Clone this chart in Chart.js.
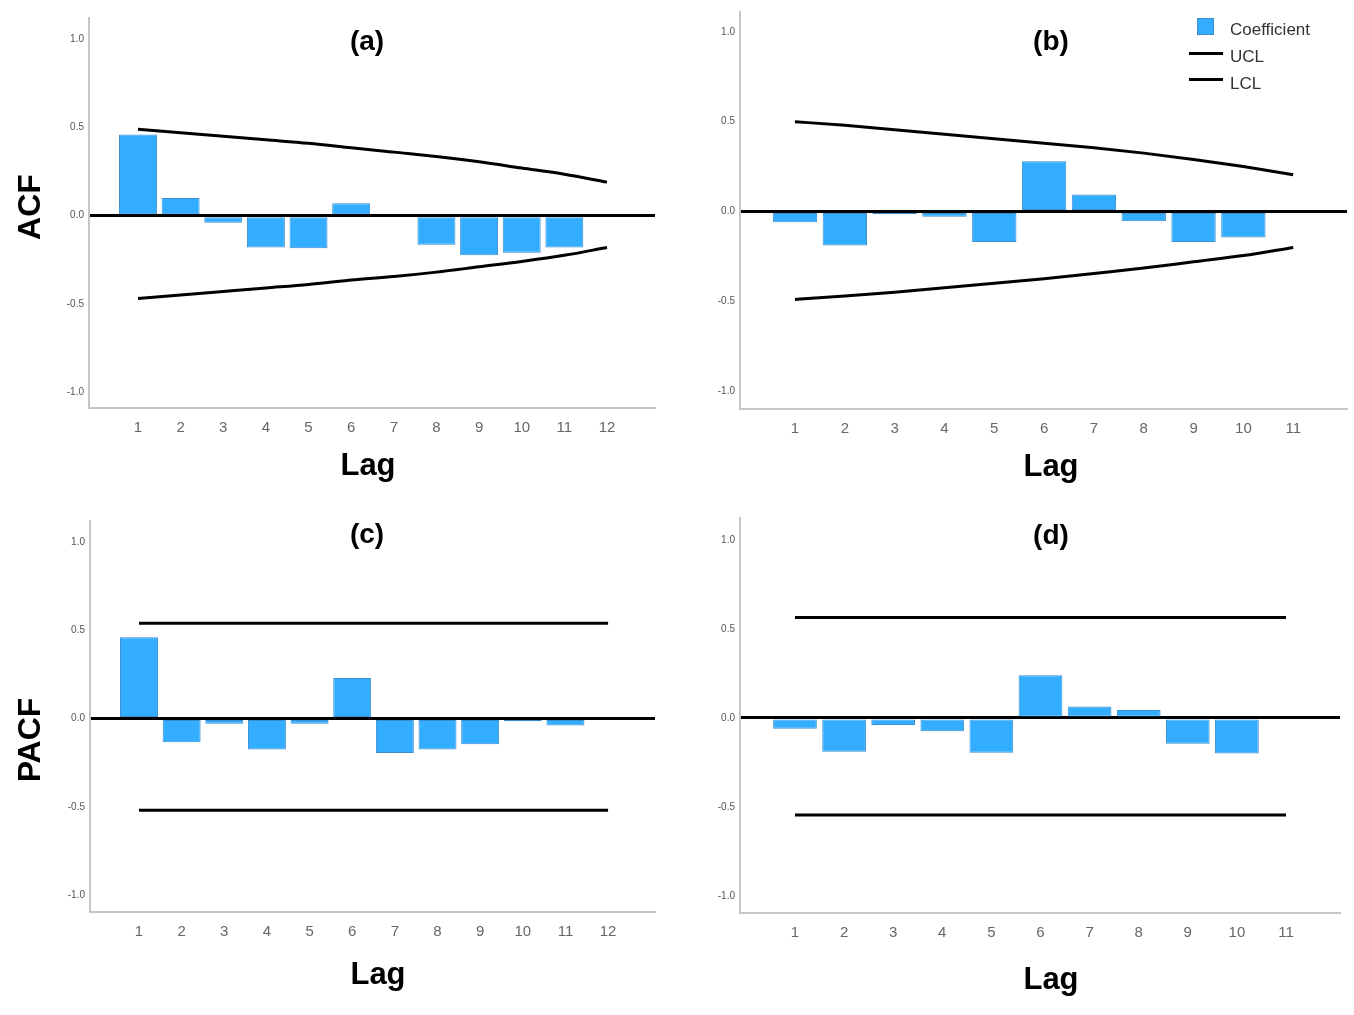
<!DOCTYPE html>
<html>
<head>
<meta charset="utf-8">
<script src="https://cdn.jsdelivr.net/npm/chart.js@4.4.1/dist/chart.umd.min.js"></script>
<style>
  html, body { margin: 0; padding: 0; background: #fff; }
  #page { position: relative; width: 1354px; height: 1015px; overflow: hidden; font-family: "Liberation Sans", Arial, sans-serif; }
  .panel { position: absolute; }
  .key { position: absolute; font-size: 17px; color: #333; line-height: 1; }
  .swatch { position: absolute; left: 1197px; top: 18px; width: 17px; height: 17px; background: #33adff; border: 1px solid #3a8fd0; box-sizing: border-box; }
  .dash { position: absolute; left: 1189px; width: 34px; height: 3px; background: #000; }
</style>
</head>
<body>
<div id="page">
  <canvas id="pa" class="panel"></canvas>
  <canvas id="pb" class="panel"></canvas>
  <canvas id="pc" class="panel"></canvas>
  <canvas id="pd" class="panel"></canvas>

  <div class="swatch"></div>
  <div class="key" style="left:1230px; top:21px;">Coefficient</div>
  <div class="dash" style="top:52px;"></div>
  <div class="key" style="left:1230px; top:48px;">UCL</div>
  <div class="dash" style="top:78px;"></div>
  <div class="key" style="left:1230px; top:75px;">LCL</div>
</div>

<script>
// lags
const lags12 = [1, 2, 3, 4, 5, 6, 7, 8, 9, 10, 11, 12]
const lags11 = [1, 2, 3, 4, 5, 6, 7, 8, 9, 10, 11]
const yTicks = [-1.0, -0.5, 0.0, 0.5, 1.0]

// (a) ACF, series 1
const acfA = [0.46, 0.10, -0.04, -0.18, -0.185, 0.07, 0.00, -0.165, -0.225, -0.21, -0.18, 0.00]
const uclA = [0.49, 0.47, 0.45, 0.43, 0.41, 0.385, 0.36, 0.335, 0.305, 0.27, 0.235, 0.19]
const lclA = [-0.47, -0.45, -0.43, -0.41, -0.39, -0.365, -0.345, -0.32, -0.29, -0.26, -0.225, -0.18]

// (b) ACF, series 2
const acfB = [-0.06, -0.19, -0.015, -0.03, -0.17, 0.28, 0.095, -0.055, -0.17, -0.145, 0.00]
const uclB = [0.50, 0.48, 0.455, 0.43, 0.405, 0.38, 0.355, 0.325, 0.29, 0.25, 0.205]
const lclB = [-0.49, -0.47, -0.45, -0.425, -0.40, -0.375, -0.345, -0.315, -0.28, -0.245, -0.20]

// (c) PACF, series 1
const pacfC = [0.46, -0.135, -0.03, -0.175, -0.03, 0.23, -0.195, -0.175, -0.145, -0.015, -0.04, 0.00]
const uclC = [0.54, 0.54, 0.54, 0.54, 0.54, 0.54, 0.54, 0.54, 0.54, 0.54, 0.54, 0.54]
const lclC = [-0.52, -0.52, -0.52, -0.52, -0.52, -0.52, -0.52, -0.52, -0.52, -0.52, -0.52, -0.52]

// (d) PACF, series 2
const pacfD = [-0.06, -0.19, -0.04, -0.075, -0.195, 0.24, 0.065, 0.045, -0.145, -0.20, 0.00]
const uclD = [0.565, 0.565, 0.565, 0.565, 0.565, 0.565, 0.565, 0.565, 0.565, 0.565, 0.565]
const lclD = [-0.545, -0.545, -0.545, -0.545, -0.545, -0.545, -0.545, -0.545, -0.545, -0.545, -0.545]


const family = '"Liberation Sans", Arial, sans-serif'

// draws panel letter, "Lag" and the rotated y title
const panelText = {
  id: 'panelText',
  afterDraw(chart, args, o) {
    const ctx = chart.ctx
    ctx.save()
    ctx.fillStyle = '#000'
    ctx.textAlign = 'center'
    ctx.textBaseline = 'middle'
    ctx.font = 'bold 28px ' + family
    ctx.fillText(o.title, o.tx, o.ty)
    ctx.font = 'bold 31px ' + family
    ctx.fillText('Lag', o.lx, o.ly)
    if (o.yTitle) {
      ctx.translate(o.yx, o.yy)
      ctx.rotate(-Math.PI / 2)
      ctx.font = 'bold 32px ' + family
      ctx.fillText(o.yTitle, 0, 0)
    }
    ctx.restore()
  }
}


function panel(id, box, area, lags, coef, ucl, lcl, xr, yr, text) {
  const el = document.getElementById(id)
  el.style.left = box.x + 'px'
  el.style.top = box.y + 'px'
  el.width = box.w
  el.height = box.h

  const t = {
    title: text.title,
    tx: text.tx - box.x, ty: text.ty - box.y,
    lx: text.lx - box.x, ly: text.ly - box.y,
    yTitle: text.yTitle,
    yx: (text.yx || 0) - box.x, yy: (text.yy || 0) - box.y,
  }

  const limit = (label, vals) => ({
    type: 'line',
    label: label,
    data: lags.map((x, i) => ({x: x, y: vals[i]})),
    borderColor: '#000',
    borderWidth: 3,
    pointRadius: 0,
    cubicInterpolationMode: 'monotone',
    fill: false,
  })

  return new Chart(el, {
    type: 'bar',
    data: {
      datasets: [
        limit('UCL', ucl),
        limit('LCL', lcl),
        {
          label: 'Coefficient',
          data: lags.map((x, i) => ({x: x, y: coef[i]})),
          backgroundColor: '#33adff',
          borderColor: '#3a8fd0',
          borderWidth: 1,
          borderSkipped: false,
          categoryPercentage: 1,
          barPercentage: 0.89,
        },
      ]
    },
    options: {
      responsive: false,
      animation: false,
      events: [],
      layout: {
        autoPadding: false,
        padding: {
          left: 0,
          top: area.t - box.y,
          right: box.x + box.w - area.r,
          bottom: 0,
        }
      },
      plugins: {
        legend: {display: false},
        tooltip: {enabled: false},
        panelText: t,
      },
      scales: {
        x: {
          type: 'linear',
          min: xr[0],
          max: xr[1],
          offset: false,
          afterBuildTicks: s => { s.ticks = lags.map(v => ({value: v})) },
          afterFit: s => { s.height = box.y + box.h - area.b },
          ticks: {
            color: '#666',
            font: {size: 15, family: family},
            padding: 11,
            maxRotation: 0,
            autoSkip: false,
            callback: v => String(v),
          },
          grid: {drawOnChartArea: false, drawTicks: false},
          border: {display: true, color: '#c6c6c6', width: 2},
        },
        y: {
          type: 'linear',
          min: yr[0],
          max: yr[1],
          z: 1,
          afterBuildTicks: s => { s.ticks = yTicks.map(v => ({value: v})) },
          afterFit: s => { s.width = area.l - box.x },
          ticks: {
            color: '#555',
            font: {size: 10, family: family},
            padding: 5,
            callback: v => Number(v).toFixed(1),
          },
          grid: {
            drawTicks: false,
            color: c => (c.tick && c.tick.value === 0) ? '#000' : 'rgba(0,0,0,0)',
            lineWidth: c => (c.tick && c.tick.value === 0) ? 3 : 0,
          },
          border: {display: true, color: '#c6c6c6', width: 2},
        },
      },
    },
    plugins: [panelText],
  })
}


panel('pa', {x: 0, y: 0, w: 677, h: 507}, {l: 89, r: 655, t: 18, b: 408},
  lags12, acfA, uclA, lclA, [-0.149, 13.126], [-1.09, 1.12],
  {title: '(a)', tx: 367, ty: 42, lx: 368, ly: 466, yTitle: 'ACF', yx: 31, yy: 207})

panel('pb', {x: 677, y: 0, w: 677, h: 507}, {l: 740, r: 1347, t: 12, b: 409},
  lags11, acfB, uclB, lclB, [-0.104, 12.08], [-1.10, 1.111],
  {title: '(b)', tx: 1051, ty: 42, lx: 1051, ly: 467})

panel('pc', {x: 0, y: 507, w: 677, h: 508}, {l: 90, r: 655, t: 521, b: 912},
  lags12, pacfC, uclC, lclC, [-0.149, 13.10], [-1.096, 1.119],
  {title: '(c)', tx: 367, ty: 535, lx: 378, ly: 975, yTitle: 'PACF', yx: 31, yy: 740})

panel('pd', {x: 677, y: 507, w: 677, h: 508}, {l: 740, r: 1340, t: 518, b: 913},
  lags11, pacfD, uclD, lclD, [-0.12, 12.10], [-1.096, 1.124],
  {title: '(d)', tx: 1051, ty: 536, lx: 1051, ly: 980})
</script>
</body>
</html>
